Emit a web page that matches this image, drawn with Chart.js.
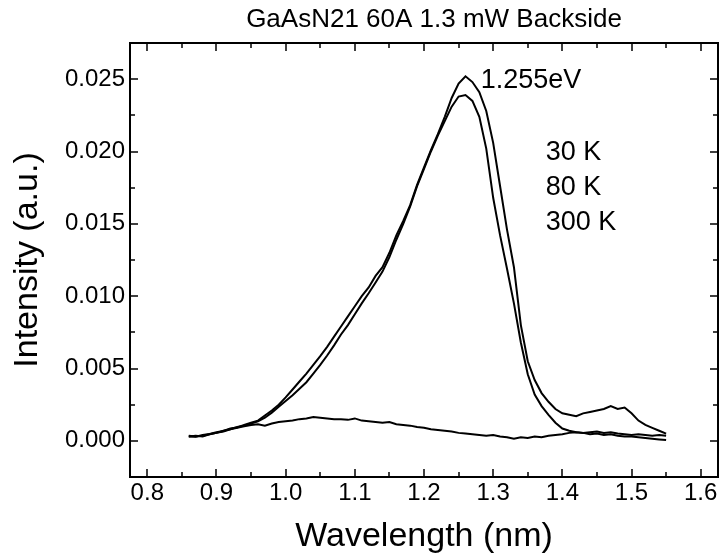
<!DOCTYPE html>
<html>
<head>
<meta charset="utf-8">
<script src="https://cdn.jsdelivr.net/npm/chart.js@4.4.0/dist/chart.umd.min.js"></script>
<style>
  html, body { margin: 0; padding: 0; background: #fff; }
  #wrap { width: 722px; height: 558px; }
</style>
</head>
<body>
<div id="wrap"><canvas id="plChart" width="722" height="558"></canvas></div>
<script>
// wavelength grid (nm) shared by all three spectra
const wavelength = [
  0.86, 0.87, 0.88, 0.89, 0.90, 0.91, 0.92, 0.93, 0.94, 0.95,
  0.96, 0.97, 0.98, 0.99, 1.00, 1.01, 1.02, 1.03, 1.04, 1.05,
  1.06, 1.07, 1.08, 1.09, 1.10, 1.11, 1.12, 1.13, 1.14, 1.15,
  1.16, 1.17, 1.18, 1.19, 1.20, 1.21, 1.22, 1.23, 1.24, 1.25,
  1.26, 1.27, 1.28, 1.29, 1.30, 1.31, 1.32, 1.33, 1.34, 1.35,
  1.36, 1.37, 1.38, 1.39, 1.40, 1.41, 1.42, 1.43, 1.44, 1.45,
  1.46, 1.47, 1.48, 1.49, 1.50, 1.51, 1.52, 1.53, 1.54, 1.55
];

const int30K = [
  0.00030, 0.00028, 0.00040, 0.00048, 0.00060, 0.00068, 0.00085, 0.00092, 0.00110, 0.00125,
  0.00140, 0.00175, 0.00210, 0.00250, 0.00300, 0.00355, 0.00410, 0.00465, 0.00525, 0.00585,
  0.00650, 0.00720, 0.00790, 0.00860, 0.00930, 0.01000, 0.01060, 0.01140, 0.01200, 0.01300,
  0.01420, 0.01520, 0.01630, 0.01770, 0.01890, 0.02010, 0.02120, 0.02240, 0.02370, 0.02470,
  0.02520, 0.02480, 0.02410, 0.02280, 0.02060, 0.01760, 0.01460, 0.01200, 0.00800, 0.00550,
  0.00420, 0.00330, 0.00270, 0.00220, 0.00190, 0.00180, 0.00170, 0.00190, 0.00200, 0.00210,
  0.00220, 0.00240, 0.00220, 0.00230, 0.00190, 0.00140, 0.00110, 0.00090, 0.00070, 0.00050
];

const int80K = [
  0.00035, 0.00030, 0.00035, 0.00045, 0.00055, 0.00070, 0.00080, 0.00095, 0.00105, 0.00120,
  0.00135, 0.00160, 0.00195, 0.00235, 0.00275, 0.00315, 0.00360, 0.00405, 0.00465, 0.00525,
  0.00590, 0.00660, 0.00735, 0.00800, 0.00875, 0.00950, 0.01020, 0.01095, 0.01170, 0.01270,
  0.01390, 0.01500, 0.01620, 0.01760, 0.01880, 0.02000, 0.02110, 0.02210, 0.02310, 0.02380,
  0.02390, 0.02350, 0.02240, 0.02020, 0.01680, 0.01420, 0.01190, 0.00950, 0.00680, 0.00460,
  0.00320, 0.00240, 0.00180, 0.00125, 0.00085, 0.00070, 0.00060, 0.00055, 0.00045, 0.00050,
  0.00040, 0.00045, 0.00035, 0.00030, 0.00030, 0.00025, 0.00020, 0.00015, 0.00010, 0.00005
];

const int300K = [
  0.00030, 0.00035, 0.00030, 0.00045, 0.00055, 0.00065, 0.00080, 0.00090, 0.00100, 0.00110,
  0.00115, 0.00105, 0.00120, 0.00130, 0.00135, 0.00140, 0.00150, 0.00155, 0.00165, 0.00160,
  0.00155, 0.00150, 0.00150, 0.00145, 0.00155, 0.00140, 0.00135, 0.00130, 0.00125, 0.00130,
  0.00115, 0.00110, 0.00105, 0.00095, 0.00090, 0.00080, 0.00075, 0.00070, 0.00065, 0.00055,
  0.00050, 0.00045, 0.00040, 0.00035, 0.00040, 0.00030, 0.00025, 0.00015, 0.00025, 0.00020,
  0.00030, 0.00025, 0.00035, 0.00040, 0.00045, 0.00055, 0.00060, 0.00055, 0.00060, 0.00065,
  0.00055, 0.00060, 0.00050, 0.00045, 0.00040, 0.00045, 0.00040, 0.00035, 0.00040, 0.00035
];

const xTicks = [0.8, 0.9, 1.0, 1.1, 1.2, 1.3, 1.4, 1.5, 1.6];
const yTicks = [0.000, 0.005, 0.010, 0.015, 0.020, 0.025];
const tempLabels = ['30 K', '80 K', '300 K'];

const FONT = "'Liberation Sans', Arial, sans-serif";

function toPoints(ys) {
    return wavelength.map((x, i) => ({ x: x, y: ys[i] }));
}

// frame + inward ticks (Origin style), drawn through the chart's scales
const framePlugin = {
    id: 'frame',
    afterDraw(chart) {
        const { ctx, chartArea: a, scales } = chart;
        ctx.save();
        ctx.strokeStyle = '#000';
        ctx.lineWidth = 2;
        ctx.strokeRect(a.left, a.top, a.right - a.left, a.bottom - a.top);

        ctx.lineWidth = 1.5;
        ctx.beginPath();
        // x ticks every 0.05, major every 0.1
        for (let i = 0; i < xTicks.length * 2 + 2; i++) {
            const v = 0.75 + i * 0.05;
            if (v < scales.x.min || v > scales.x.max) continue;
            const px = Math.round(scales.x.getPixelForValue(v));
            const len = (i % 2 === 1) ? 8 : 5;
            ctx.moveTo(px, a.bottom); ctx.lineTo(px, a.bottom - len);
            ctx.moveTo(px, a.top); ctx.lineTo(px, a.top + len);
        }
        // y ticks every 0.0025, major every 0.005
        for (let i = -1; i <= 11; i++) {
            const v = i * 0.0025;
            if (v < scales.y.min || v > scales.y.max) continue;
            const py = Math.round(scales.y.getPixelForValue(v));
            const len = (i % 2 === 0) ? 8 : 5;
            ctx.moveTo(a.left, py); ctx.lineTo(a.left + len, py);
            ctx.moveTo(a.right, py); ctx.lineTo(a.right - len, py);
        }
        ctx.stroke();

        // title and annotations
        ctx.fillStyle = '#000';
        ctx.textBaseline = 'middle';
        ctx.textAlign = 'center';
        ctx.font = '26px ' + FONT;
        ctx.fillText('GaAsN21 60A 1.3 mW Backside', 434, 20);

        ctx.textAlign = 'left';
        ctx.font = '27px ' + FONT;
        ctx.fillText('1.255eV', scales.x.getPixelForValue(1.282), scales.y.getPixelForValue(0.0249));
        tempLabels.forEach((t, i) => {
            ctx.fillText(t, scales.x.getPixelForValue(1.376), scales.y.getPixelForValue(0.0199 - i * 0.0024));
        });
        ctx.restore();
    }
};

const lineStyle = {
    borderColor: '#000',
    borderWidth: 2,
    pointRadius: 0,
    fill: false,
    tension: 0
};

new Chart(document.getElementById('plChart'), {
    type: 'line',
    data: {
        datasets: [
            { label: tempLabels[0], data: toPoints(int30K), ...lineStyle },
            { label: tempLabels[1], data: toPoints(int80K), ...lineStyle },
            { label: tempLabels[2], data: toPoints(int300K), ...lineStyle }
        ]
    },
    options: {
        responsive: false,
        animation: false,
        devicePixelRatio: 1,
        layout: { padding: { top: 43, right: 4, left: 0, bottom: 0 } },
        plugins: { legend: { display: false }, tooltip: { enabled: false } },
        scales: {
            x: {
                type: 'linear',
                min: 0.775,
                max: 1.625,
                grid: { display: false, drawTicks: false },
                border: { display: false },
                afterBuildTicks: (s) => { s.ticks = xTicks.map(v => ({ value: v })); },
                afterFit: (s) => { s.height = 81; },
                ticks: {
                    color: '#000',
                    padding: 2,
                    maxRotation: 0,
                    font: { family: FONT, size: 24 },
                    callback: (v) => v.toFixed(1)
                },
                title: {
                    display: true,
                    text: 'Wavelength (nm)',
                    color: '#000',
                    font: { family: FONT, size: 34 },
                    padding: { top: 0, bottom: 1 }
                }
            },
            y: {
                min: -0.0025,
                max: 0.0275,
                grid: { display: false, drawTicks: false },
                border: { display: false },
                afterBuildTicks: (s) => { s.ticks = yTicks.map(v => ({ value: v })); },
                afterFit: (s) => { s.width = 130; },
                ticks: {
                    color: '#000',
                    padding: 5,
                    font: { family: FONT, size: 24 },
                    callback: (v) => v.toFixed(3)
                },
                title: {
                    display: true,
                    text: 'Intensity (a.u.)',
                    color: '#000',
                    font: { family: FONT, size: 34 },
                    padding: { top: 7, bottom: 0 }
                }
            }
        }
    },
    plugins: [framePlugin]
});
</script>
</body>
</html>
